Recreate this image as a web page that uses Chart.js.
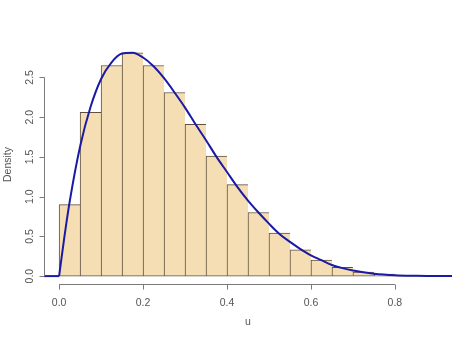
<!DOCTYPE html>
<html><head><meta charset="utf-8">
<script src="https://cdn.jsdelivr.net/npm/chart.js@4/dist/chart.umd.min.js"></script>
<style>html,body{margin:0;padding:0;background:#fff}#wrap{width:474px;height:340px;position:relative}</style>
</head><body><div id="wrap"><canvas id="c"></canvas></div>
<script>
// Histogram bins (centres) and densities
const binCenters = [0.025,0.075,0.125,0.175,0.225,0.275,0.325,0.375,0.425,0.475,0.525,0.575,0.625,0.675,0.725,0.775,0.825,0.875];
const binDensity = [0.90,2.06,2.65,2.81,2.65,2.31,1.91,1.51,1.15,0.80,0.54,0.33,0.20,0.11,0.05,0.025,0.008,0.003];
// Density curve
const curveX = [-0.036,0,0.0125,0.025,0.05,0.075,0.1,0.125,0.15,0.175,0.2,0.225,0.25,0.275,0.3,0.325,0.35,0.375,0.4,0.425,0.45,0.475,0.5,0.525,0.55,0.575,0.6,0.625,0.65,0.675,0.7,0.75,0.8,0.85,0.9,0.936];
const curveY = [0,0,0.49,0.93,1.63,2.13,2.48,2.69,2.80,2.81,2.75,2.64,2.49,2.31,2.12,1.91,1.71,1.50,1.31,1.12,0.95,0.80,0.66,0.53,0.43,0.34,0.26,0.20,0.14,0.10,0.07,0.03,0.01,0.003,0,0];
// Axis ticks
const xTicks = [0,0.2,0.4,0.6,0.8];
const xTickLabels = ['0.0','0.2','0.4','0.6','0.8'];
const yTicks = [0,0.5,1,1.5,2,2.5];
const yTickLabels = ['0.0','0.5','1.0','1.5','2.0','2.5'];
const xTitle = 'u';
const yTitle = 'Density';

const FONT = '10.5px "Liberation Sans", Arial, sans-serif';

const rAxes = {
  id: 'rAxes',
  afterDraw(chart) {
    const ctx = chart.ctx, xs = chart.scales.x, ys = chart.scales.y, a = chart.chartArea;
    ctx.save();
    ctx.strokeStyle = '#7a7a7a';
    ctx.lineWidth = 1;
    const yb = Math.round(a.bottom) - 0.5;
    ctx.beginPath();
    ctx.moveTo(xs.getPixelForValue(xTicks[0]), yb);
    ctx.lineTo(xs.getPixelForValue(xTicks[xTicks.length - 1]), yb);
    xTicks.forEach(v => { const p = Math.round(xs.getPixelForValue(v)) + 0.5; ctx.moveTo(p, yb); ctx.lineTo(p, yb + 5); });
    const xl = Math.round(a.left) + 0.5;
    ctx.moveTo(xl, ys.getPixelForValue(yTicks[0]));
    ctx.lineTo(xl, ys.getPixelForValue(yTicks[yTicks.length - 1]));
    yTicks.forEach(v => { const p = Math.round(ys.getPixelForValue(v)) + 0.5; ctx.moveTo(xl, p); ctx.lineTo(xl - 5, p); });
    ctx.stroke();

    ctx.fillStyle = '#555';
    ctx.font = FONT;
    ctx.textAlign = 'center';
    ctx.textBaseline = 'middle';
    xTicks.forEach((v, i) => ctx.fillText(xTickLabels[i], xs.getPixelForValue(v), 303));
    yTicks.forEach((v, i) => {
      ctx.save(); ctx.translate(30.5, ys.getPixelForValue(v)); ctx.rotate(-Math.PI / 2);
      ctx.fillText(yTickLabels[i], 0, 0); ctx.restore();
    });
    ctx.fillText(xTitle, (a.left + a.right) / 2, 322);
    ctx.save(); ctx.translate(8.5, (a.top + a.bottom) / 2); ctx.rotate(-Math.PI / 2);
    ctx.fillText(yTitle, 0, 0); ctx.restore();
    ctx.restore();
  }
};

const curvePts = curveX.map((x, i) => ({ x: x, y: curveY[i] }));
const lineStyle = { type: 'line', borderColor: '#1a1aa4', borderWidth: 2, pointRadius: 0, fill: false, order: 0 };

new Chart(document.getElementById('c'), {
  type: 'bar',
  data: {
    datasets: [
      Object.assign({ data: curvePts.slice(0, 2) }, lineStyle),
      Object.assign({ data: curvePts.slice(1), cubicInterpolationMode: 'monotone' }, lineStyle),
      {
        type: 'bar',
        data: binCenters.map((x, i) => ({ x: x, y: binDensity[i] })),
        backgroundColor: '#F5DEB3',
        borderColor: '#5f5040',
        borderSkipped: false,
        borderWidth: c => ({ left: 1, top: 1, bottom: 1, right: c.dataIndex === binCenters.length - 1 ? 1 : 0 }),
        barPercentage: 1,
        categoryPercentage: 1,
        order: 1
      }
    ]
  },
  options: {
    responsive: true,
    maintainAspectRatio: false,
    animation: false,
    layout: { padding: { left: 44, right: 22, top: 44, bottom: 55 } },
    plugins: { legend: { display: false }, tooltip: { enabled: false } },
    scales: {
      x: { type: 'linear', min: -0.036, max: 0.936, display: false, offset: false },
      y: { type: 'linear', min: -0.112, max: 2.92, display: false }
    }
  },
  plugins: [rAxes]
});
</script>
</body></html>
